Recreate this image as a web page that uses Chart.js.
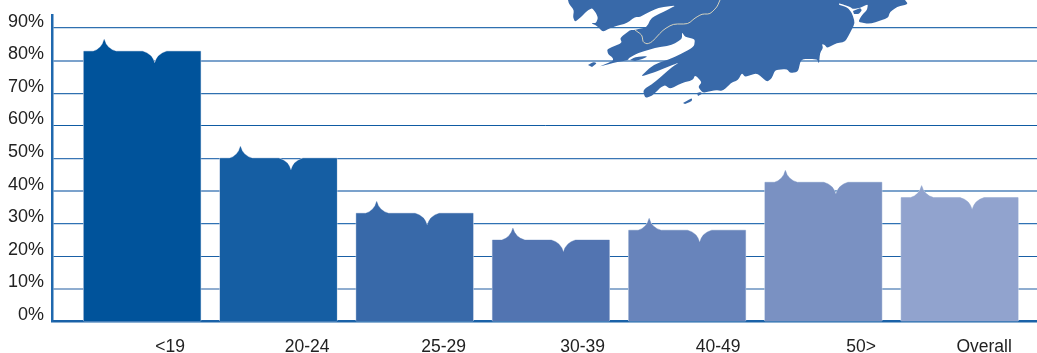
<!DOCTYPE html>
<html>
<head>
<meta charset="utf-8">
<title>Age groups</title>
<style>
  html, body { margin: 0; padding: 0; background: #fff; }
  canvas { display: block; }
</style>
</head>
<body>
<canvas id="chart" width="1037" height="353"></canvas>
<script src="https://cdn.jsdelivr.net/npm/chart.js@4/dist/chart.umd.min.js"></script>
<script>
const categories = ['<19', '20-24', '25-29', '30-39', '40-49', '50>', 'Overall'];
const shares = [82.9, 50.1, 33.2, 25, 28, 42.7, 38];
const barColors = ['#00539b', '#155ea3', '#3869a9', '#5274b1', '#6884bb', '#7a91c2', '#91a3ce'];
const yTicks = [0, 10, 20, 30, 40, 50, 60, 70, 80, 90];

// age labels sit right of the bar centres, by a different amount each
const labelNudge = [28, 28.75, 29, 31.75, 31, 37.75, 24.5];
const unitPx = 136.25;
const gridColors = ['#1c64aa', '#8fadd0', '#1a60a6', '#2f72b4', '#7ba2cc', '#3a76b5', '#0f5ba3', '#2f70b0', '#7ba2cc', '#2f70b0'];
const gridWidths = [1, 2, 1, 1.3, 2, 1.3, 1, 1.3, 2, 1.3];

// bar with a little curl rising on its top edge and a bite cut out of it
class CurlBar extends Chart.BarElement {
    static id = 'curlBar';
    draw(ctx) {
        const { x, y, base, width } = this.getProps(['x', 'y', 'base', 'width']);
        const left = x - width / 2;
        const right = x + width / 2;
        const sx = left + 20.5;
        const nx = left + 71;
        const bow = 2.5;
        ctx.save();
        ctx.beginPath();
        ctx.moveTo(left, base);
        ctx.lineTo(left, y);
        ctx.lineTo(sx - 11, y);
        ctx.quadraticCurveTo(sx - bow, y - bow, sx, y - 12);
        ctx.quadraticCurveTo(sx + bow, y - bow, sx + 12, y);
        ctx.lineTo(nx - 12, y);
        ctx.quadraticCurveTo(nx - bow, y + bow, nx, y + 12);
        ctx.quadraticCurveTo(nx + bow, y + bow, nx + 12, y);
        ctx.lineTo(right, y);
        ctx.lineTo(right, base);
        ctx.closePath();
        // pale rim outside the fill
        ctx.strokeStyle = '#c4d2e6';
        ctx.lineWidth = 1;
        ctx.stroke();
        ctx.fillStyle = this.options.backgroundColor;
        ctx.fill();
        ctx.restore();
    }
}

class CurlBarController extends Chart.BarController {
    static id = 'curlBar';
    static defaults = { ...Chart.BarController.defaults, dataElementType: 'curlBar' };
}

Chart.register(CurlBar, CurlBarController);

// County outline behind the upper part of the plot
const coast = [[568,0],[569,4],[574,10],[573,17],[575,22],[581,17],[587,11],[592,8],[596,13],[598,18],[596,23],[591,23],[597,26],[603,32],[610,28],[617,26],[627,23],[635,17],[640,17],[647,13],[658,8],[677,5],[663,12],[651,18],[647,27],[635,30],[630,30],[620,38],[622,43],[607,49],[608,54],[613,58],[613,61],[598,67],[613,63],[628,60],[629,58],[638,53],[655,48],[672,45],[682,39],[682,32],[685,37],[695,39],[694,47],[675,57],[653,65],[640,77],[655,72],[680,62],[672,67],[655,82],[643,90],[645,98],[652,96],[660,88],[665,85],[670,89],[682,83],[693,80],[695,75],[702,82],[698,87],[703,93],[715,90],[723,91],[731,83],[738,80],[742,73],[745,77],[757,73],[767,82],[772,78],[775,70],[787,69],[790,73],[798,72],[801,59],[817,59],[819,64],[820,53],[823,48],[822,44],[825,45],[827,48],[837,43],[845,42],[850,33],[855,23],[852,13],[847,7],[839,5],[839,3],[850,7],[853,9],[860,8],[868,4],[867,10],[862,15],[858,22],[870,24],[888,18],[890,12],[897,7],[908,4],[905,0]];
const islands = [
    [[588,65],[593,62],[597,63],[592,67]],
    [[630,60],[635,57],[648,56],[643,59],[635,61]],
    [[683,103],[692,98],[692,101],[685,104]],
    [[697,93],[701,92],[702,94],[698,96]],
    [[853,11],[860,8],[862,10],[859,14],[854,14]]
];
const border = [[720,0],[717,7],[710,14],[702,14],[695,18],[688,24],[673,24],[663,30],[652,42],[647,44],[643,42],[642,35],[635,30]];

// rounds each vertex off a little so the coast doesn't look faceted
function traceSoft(ctx, pts) {
    ctx.beginPath();
    ctx.moveTo(pts[0][0], pts[0][1]);
    for (let i = 1; i < pts.length - 1; i++) {
        const [px, py] = pts[i];
        const [ax, ay] = pts[i - 1];
        const [bx, by] = pts[i + 1];
        ctx.lineTo(px + (ax - px) * 0.3, py + (ay - py) * 0.3);
        ctx.quadraticCurveTo(px, py, px + (bx - px) * 0.3, py + (by - py) * 0.3);
    }
    const last = pts[pts.length - 1];
    ctx.lineTo(last[0], last[1]);
}

const countyMap = {
    id: 'countyMap',
    beforeDatasetsDraw(chart) {
        const ctx = chart.ctx;
        ctx.save();
        ctx.fillStyle = '#3869a9';
        traceSoft(ctx, coast);
        ctx.closePath();
        ctx.fill();
        islands.forEach(isle => {
            traceSoft(ctx, isle);
            ctx.closePath();
            ctx.fill();
        });
        ctx.strokeStyle = '#e4dcc0';
        ctx.lineWidth = 0.9;
        traceSoft(ctx, border);
        ctx.stroke();
        ctx.restore();
    }
};

new Chart(document.getElementById('chart'), {
    type: 'curlBar',
    data: {
        datasets: [{
            data: shares.map((v, i) => ({ x: i, y: v })),
            backgroundColor: barColors,
            barThickness: 117
        }]
    },
    plugins: [countyMap],
    options: {
        responsive: false,
        animation: false,
        layout: { padding: { top: 15, left: 0, right: 0, bottom: 0 } },
        plugins: { legend: { display: false }, tooltip: { enabled: false } },
        scales: {
            x: {
                type: 'linear',
                offset: false,
                min: -0.662,
                max: 6.568,
                grid: { display: false, offset: false, drawTicks: false },
                border: { display: true, color: '#1a62a8', width: 2.5 },
                afterBuildTicks(scale) {
                    scale.ticks = categories.map((c, i) => ({ value: i + labelNudge[i] / unitPx }));
                },
                afterFit(scale) {
                    scale.height = 31.5;
                    scale.paddingLeft = scale.paddingRight = 0;
                },
                ticks: {
                    autoSkip: false,
                    maxRotation: 0,
                    padding: 15,
                    color: '#222',
                    font: { family: 'Liberation Sans', size: 17.5 },
                    callback: (v, i) => categories[i]
                }
            },
            y: {
                min: 0,
                max: 94,
                grid: {
                    drawTicks: false,
                    color: ctx => gridColors[ctx.index],
                    lineWidth: ctx => gridWidths[ctx.index]
                },
                border: { display: true, color: '#1f68ae', width: 2.5 },
                afterBuildTicks(scale) {
                    scale.ticks = yTicks.map(v => ({ value: v }));
                },
                afterFit(scale) {
                    scale.width = 52;
                    scale.paddingTop = scale.paddingBottom = 0;
                },
                ticks: {
                    padding: 8,
                    labelOffset: -6.5,
                    color: '#222',
                    font: { family: 'Liberation Sans', size: 18 },
                    callback: v => v + '%'
                }
            }
        }
    }
});
</script>
</body>
</html>
